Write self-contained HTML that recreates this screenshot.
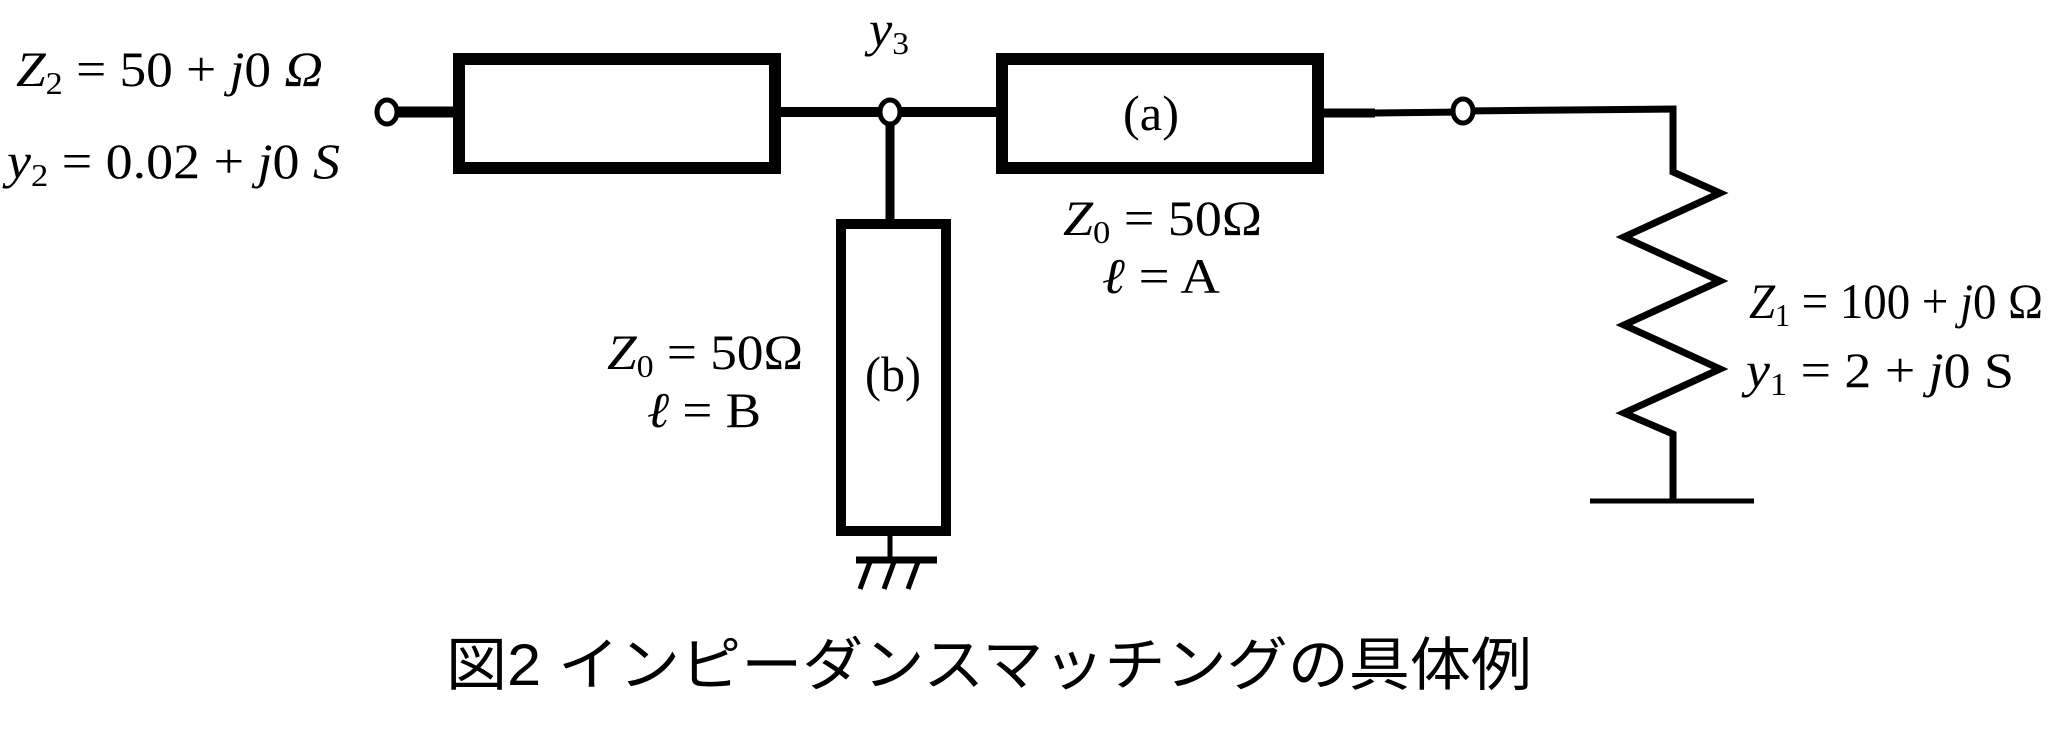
<!DOCTYPE html>
<html><head><meta charset="utf-8"><style>
html,body{margin:0;padding:0;background:#fff;}
svg{display:block;}
text{font-family:"Liberation Serif",serif;fill:#000;}
.i{font-style:italic;}
</style></head><body>
<svg width="2048" height="739" viewBox="0 0 2048 739" xmlns="http://www.w3.org/2000/svg">
<rect width="2048" height="739" fill="#fff"/>
<g stroke="#000" fill="none" stroke-linejoin="miter">
<line x1="392" y1="112" x2="458" y2="112" stroke-width="11"/>
<rect x="459" y="59" width="316" height="109" stroke-width="12"/>
<line x1="775" y1="112" x2="1002" y2="112" stroke-width="10"/>
<rect x="1002" y="59" width="316" height="109" stroke-width="12"/>
<line x1="890" y1="112" x2="890" y2="224" stroke-width="9"/>
<rect x="841" y="224" width="105" height="307" stroke-width="10"/>
<line x1="890" y1="531" x2="890" y2="560" stroke-width="5"/>
<line x1="856" y1="560" x2="937" y2="560" stroke-width="7"/>
<line x1="870" y1="562" x2="860" y2="589" stroke-width="5"/>
<line x1="894" y1="562" x2="884" y2="589" stroke-width="5"/>
<line x1="918" y1="562" x2="908" y2="589" stroke-width="5"/>
<line x1="1318" y1="113" x2="1375" y2="113" stroke-width="9"/>
<line x1="1375" y1="113" x2="1463" y2="112" stroke-width="7"/>
<polyline points="1463,111 1673,109 1673,172 1720,193 1624,237 1720,281 1624,325 1720,369 1624,413 1673,434 1673,500" stroke-width="7"/>
<line x1="1590" y1="501" x2="1754" y2="501" stroke-width="5"/>
</g>
<g stroke="#000" stroke-width="5" fill="#fff">
<ellipse cx="387" cy="112" rx="10" ry="12"/>
<ellipse cx="890" cy="112" rx="10" ry="12"/>
<ellipse cx="1463" cy="111" rx="10" ry="12"/>
</g>
<g font-size="50">
<text x="16" y="86" textLength="307" lengthAdjust="spacingAndGlyphs"><tspan class="i">Z</tspan><tspan font-size="32" dy="8">2</tspan><tspan dy="-8"> = 50 + </tspan><tspan class="i">j</tspan>0 <tspan class="i">Ω</tspan></text>
<text x="7" y="178" textLength="333" lengthAdjust="spacingAndGlyphs"><tspan class="i">y</tspan><tspan font-size="32" dy="8">2</tspan><tspan dy="-8"> = 0.02 + </tspan><tspan class="i">j</tspan>0 <tspan class="i">S</tspan></text>
<text x="869" y="46" textLength="40" lengthAdjust="spacingAndGlyphs"><tspan class="i">y</tspan><tspan font-size="32" dy="8">3</tspan></text>
<text x="607" y="369" textLength="196" lengthAdjust="spacingAndGlyphs"><tspan class="i">Z</tspan><tspan font-size="32" dy="8">0</tspan><tspan dy="-8"> = 50Ω</tspan></text>
<text x="647" y="427" textLength="114" lengthAdjust="spacingAndGlyphs"><tspan class="i">ℓ</tspan> = B</text>
<text x="893" y="391" text-anchor="middle" textLength="56" lengthAdjust="spacingAndGlyphs">(b)</text>
<text x="1151" y="130" text-anchor="middle" textLength="56" lengthAdjust="spacingAndGlyphs">(a)</text>
<text x="1063" y="235" textLength="199" lengthAdjust="spacingAndGlyphs"><tspan class="i">Z</tspan><tspan font-size="32" dy="8">0</tspan><tspan dy="-8"> = 50Ω</tspan></text>
<text x="1102" y="293" textLength="118" lengthAdjust="spacingAndGlyphs"><tspan class="i">ℓ</tspan> = A</text>
<text x="1749" y="318" textLength="294" lengthAdjust="spacingAndGlyphs"><tspan class="i">Z</tspan><tspan font-size="32" dy="8">1</tspan><tspan dy="-8"> = 100 + </tspan><tspan class="i">j</tspan>0 Ω</text>
<text x="1746" y="387" textLength="268" lengthAdjust="spacingAndGlyphs"><tspan class="i">y</tspan><tspan font-size="32" dy="8">1</tspan><tspan dy="-8"> = 2 + </tspan><tspan class="i">j</tspan>0 S</text>
</g>
<text x="446" y="685" font-size="58" textLength="1086" lengthAdjust="spacingAndGlyphs" style='font-family:"Liberation Sans","Noto Sans CJK JP",sans-serif;'>図2  インピーダンスマッチングの具体例</text>
</svg>
</body></html>
